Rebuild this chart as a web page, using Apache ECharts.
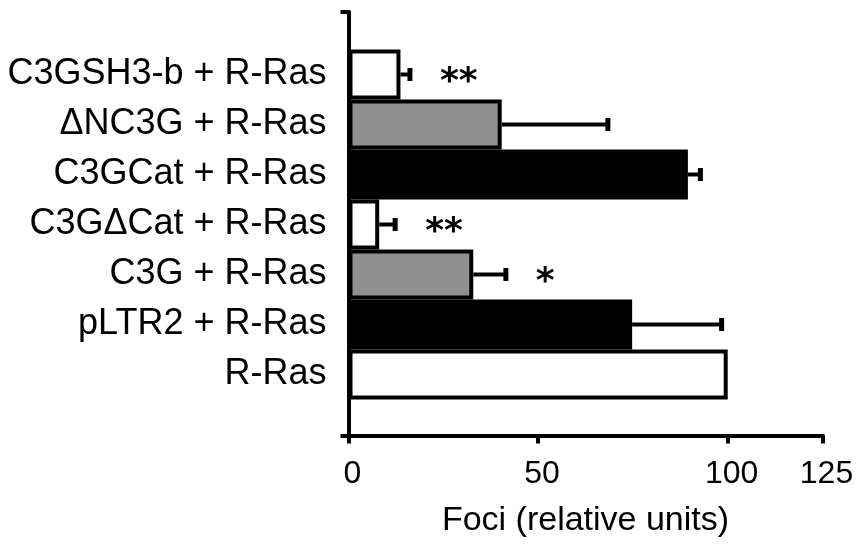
<!DOCTYPE html>
<html>
<head>
<meta charset="utf-8">
<script src="https://cdn.jsdelivr.net/npm/echarts@6/dist/echarts.min.js"></script>
<style>
html,body{margin:0;padding:0;background:#fff;}
#chart{width:858px;height:545px;}
</style>
</head>
<body>
<div id="chart"></div>
<script>
// Categories listed bottom to top
var categories = ['R-Ras', 'pLTR2 + R-Ras', 'C3G + R-Ras', 'C3G\u0394Cat + R-Ras', 'C3GCat + R-Ras', '\u0394NC3G + R-Ras', 'C3GSH3-b + R-Ras'];
var values = [100, 74.8, 32.9, 8.1, 89.5, 40.4, 13.7];
var errors = [0, 23.6, 8.6, 4.2, 3.3, 28.0, 2.5];
var significance = ['', '', '*', '**', '', '', '**'];
var xTicks = [0, 50, 100, 125];
var fills = ['#ffffff', '#000000', '#909090', '#ffffff', '#000000', '#909090', '#ffffff'];

var FONT = 'Liberation Sans, Arial, Helvetica, sans-serif';

var barData = values.map(function (v, i) {
  return { value: v, itemStyle: { color: fills[i] } };
});
var errData = values.map(function (v, i) { return [i, v, v + errors[i]]; });
var sigData = values.map(function (v, i) { return [i, v + errors[i], significance[i]]; });

var chart = echarts.init(document.getElementById('chart'), null, { renderer: 'canvas' });
chart.setOption({
  animation: false,
  backgroundColor: '#ffffff',
  grid: [
    { left: 348.5, width: 474, top: 12, height: 423.5, containLabel: false },
    { left: 348.5, width: 474, top: 49.5, height: 350, containLabel: false }
  ],
  xAxis: [
    {
      gridIndex: 0, type: 'value', min: 0, max: 125,
      axisLine: { show: true, lineStyle: { color: '#000', width: 4, cap: 'square' } },
      axisTick: { show: true, customValues: xTicks, length: 8, lineStyle: { color: '#000', width: 4 } },
      axisLabel: { show: true, customValues: xTicks, fontSize: 32, color: '#000', fontFamily: FONT, margin: 23, padding: [0, 0, 0, 8] },
      splitLine: { show: false },
      name: 'Foci (relative units)', nameLocation: 'middle', nameGap: 68,
      nameTextStyle: { fontSize: 34, color: '#000', fontFamily: FONT, verticalAlign: 'top' }
    },
    { gridIndex: 1, type: 'value', min: 0, max: 125, show: false }
  ],
  yAxis: [
    {
      gridIndex: 0, type: 'value', min: 0, max: 1,
      axisLine: { show: true, lineStyle: { color: '#000', width: 4 } },
      axisTick: { show: true, customValues: [0, 1], length: 8, lineStyle: { color: '#000', width: 4 } },
      axisLabel: { show: false },
      splitLine: { show: false }
    },
    {
      gridIndex: 1, type: 'category', data: categories,
      axisLine: { show: false }, axisTick: { show: false }, splitLine: { show: false },
      axisLabel: { fontSize: 36, color: '#000', fontFamily: FONT, margin: 22 }
    }
  ],
  series: [
    {
      type: 'bar', xAxisIndex: 1, yAxisIndex: 1, data: barData,
      barCategoryGap: 0, barWidth: '100%',
      itemStyle: { borderColor: '#000', borderWidth: 4 }
    },
    {
      type: 'custom', xAxisIndex: 1, yAxisIndex: 1, data: errData, z: 5,
      renderItem: function (params, api) {
        var e = api.value(2), v = api.value(1);
        if (e <= v) return null;
        var s = api.coord([v, api.value(0)]);
        var t = api.coord([e, api.value(0)]);
        return {
          type: 'group',
          children: [
            { type: 'line', shape: { x1: s[0], y1: s[1], x2: t[0], y2: t[1] }, style: { stroke: '#000', lineWidth: 4 } },
            { type: 'line', shape: { x1: t[0], y1: t[1] - 6.5, x2: t[0], y2: t[1] + 6.5 }, style: { stroke: '#000', lineWidth: 5 } }
          ]
        };
      }
    },
    {
      type: 'custom', xAxisIndex: 1, yAxisIndex: 1, data: sigData, z: 6,
      renderItem: function (params, api) {
        var txt = significance[params.dataIndex];
        if (!txt) return null;
        var p = api.coord([api.value(1), api.value(0)]);
        return {
          type: 'text',
          style: { x: p[0] + 30, y: p[1] + 8, text: txt, fill: '#000', font: 'bold 36px DejaVu Sans, sans-serif', textAlign: 'left', textVerticalAlign: 'middle' }
        };
      }
    }
  ]
});
</script>
</body>
</html>
